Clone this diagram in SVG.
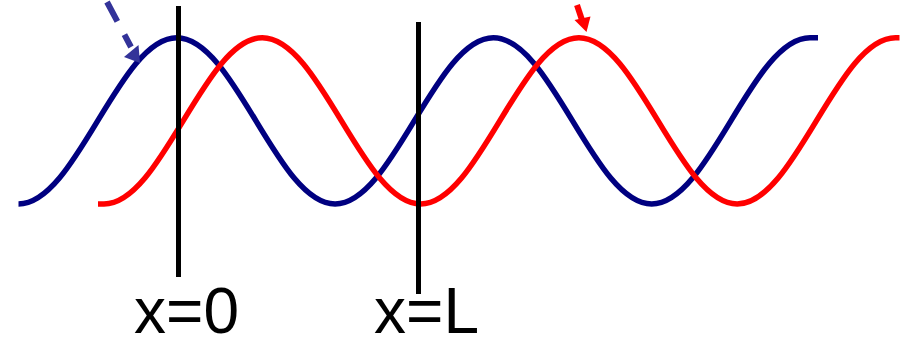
<svg xmlns="http://www.w3.org/2000/svg" width="901" height="337" viewBox="0 0 901 337">
<style>
.wave{fill:none;stroke-width:5.5;stroke-linejoin:round}
.blue{stroke:#000080}
.red{stroke:#ff0000}
.bar{stroke:#000;stroke-width:5;fill:none}
.lbl{font-family:"Liberation Sans",Arial,sans-serif;font-size:64px;fill:#000}
</style>
<rect width="901" height="337" fill="#fff"/>
<g id="blue-wave">
<path class="wave blue" d="M18.5,204 c57.65,0 100.65,-166.3 158.3,-166.3 c57.65,0 100.65,166.3 158.3,166.3 c57.65,0 100.65,-166.3 158.3,-166.3 c57.65,0 100.65,166.3 158.3,166.3 c57.65,0 100.65,-166.3 158.3,-166.3 l8,0"/>
</g>
<g id="red-wave">
<path class="wave red" d="M98,204 l6,0 c57.65,0 100.65,-166.3 158.3,-166.3 c57.65,0 100.65,166.3 158.3,166.3 c57.65,0 100.65,-166.3 158.3,-166.3 c57.65,0 100.65,166.3 158.3,166.3 c57.65,0 100.65,-166.3 158.3,-166.3 l4,0"/>
</g>
<g id="x0">
<line class="bar" x1="178.5" y1="6" x2="178.5" y2="277"/>
<text class="lbl" x="134" y="333">x=0</text>
</g>
<g id="xL">
<line class="bar" x1="418.5" y1="22" x2="418.5" y2="294"/>
<text class="lbl" x="374" y="333">x=L</text>
</g>
<g id="connectors">
<line x1="107" y1="2" x2="131" y2="47" stroke="#333399" stroke-width="6" stroke-dasharray="22 15"/>
<polygon points="140,63 124,57 138.5,45" fill="#333399"/>
<line x1="577" y1="5" x2="582" y2="20" stroke="#ff0000" stroke-width="6"/>
<polygon points="586.5,32 574.5,20 590.5,16.5" fill="#ff0000"/>
</g>
</svg>
